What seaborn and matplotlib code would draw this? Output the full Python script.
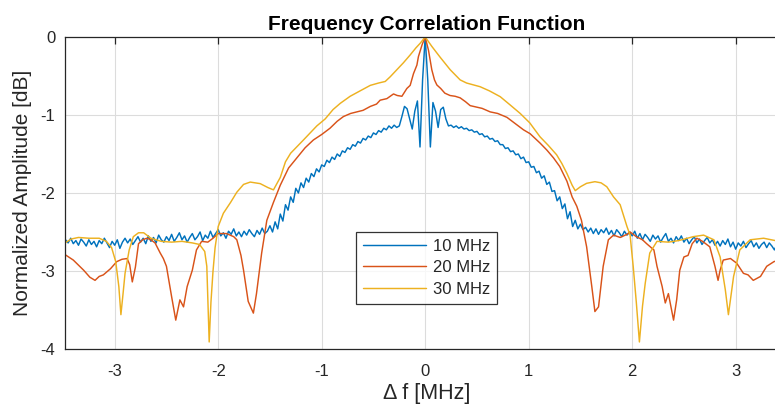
import numpy as np
import matplotlib
matplotlib.use("Agg")
import matplotlib.pyplot as plt
import seaborn as sns

# ============ Data ============
# 10 MHz: sampled on a regular grid from -3.5 to 3.4 MHz (step 0.025)
blue_x = np.linspace(-3.5, 3.4, 277)
blue_y = [
    -2.66, -2.60, -2.64, -2.58, -2.65, -2.61, -2.67, -2.59, -2.63, -2.68,
    -2.60, -2.66, -2.62, -2.69, -2.61, -2.65, -2.58, -2.64, -2.70, -2.62,
    -2.67, -2.60, -2.71, -2.63, -2.58, -2.64, -2.59, -2.66, -2.61, -2.56,
    -2.63, -2.58, -2.65, -2.55, -2.62, -2.57, -2.64, -2.54, -2.60, -2.63,
    -2.56, -2.61, -2.53, -2.62, -2.57, -2.51, -2.60, -2.55, -2.63, -2.57,
    -2.52, -2.60, -2.56, -2.50, -2.61, -2.54, -2.58, -2.49, -2.57, -2.52,
    -2.47, -2.55, -2.51, -2.58, -2.49, -2.53, -2.46, -2.55, -2.50, -2.56,
    -2.49, -2.54, -2.47, -2.52, -2.56, -2.48, -2.53, -2.45, -2.52, -2.49,
    -2.42, -2.50, -2.37, -2.46, -2.27, -2.36, -2.15, -2.22, -2.05, -2.12,
    -1.94, -2.00, -1.87, -1.93, -1.81, -1.86, -1.75, -1.79, -1.69, -1.73,
    -1.64, -1.66, -1.58, -1.61, -1.54, -1.57, -1.50, -1.53, -1.46, -1.48,
    -1.42, -1.44, -1.38, -1.40, -1.34, -1.36, -1.30, -1.32, -1.27, -1.29,
    -1.23, -1.25, -1.20, -1.22, -1.17, -1.19, -1.14, -1.17, -1.13, -1.16,
    -1.14, -1.02, -0.89, -0.92, -1.05, -1.18, -0.95, -0.82, -1.41, -0.55,
    0.00, -0.55, -1.41, -0.84, -0.95, -1.16, -0.93, -0.90, -1.05, -1.14,
    -1.13, -1.16, -1.14, -1.17, -1.15, -1.18, -1.17, -1.20, -1.19, -1.22,
    -1.21, -1.25, -1.24, -1.28, -1.27, -1.31, -1.30, -1.34, -1.33, -1.38,
    -1.38, -1.43, -1.42, -1.47, -1.46, -1.51, -1.50, -1.56, -1.54, -1.61,
    -1.60, -1.67, -1.66, -1.74, -1.72, -1.81, -1.78, -1.89, -1.86, -1.98,
    -1.97, -2.10, -2.05, -2.20, -2.14, -2.33, -2.24, -2.43, -2.35, -2.46,
    -2.40, -2.47, -2.44, -2.50, -2.45, -2.52, -2.46, -2.53, -2.47, -2.51,
    -2.45, -2.53, -2.48, -2.55, -2.47, -2.51, -2.56, -2.49, -2.54, -2.50,
    -2.55, -2.49, -2.58, -2.52, -2.60, -2.53, -2.57, -2.62, -2.54, -2.59,
    -2.55, -2.63, -2.57, -2.52, -2.62, -2.58, -2.64, -2.56, -2.61, -2.55,
    -2.63, -2.58, -2.65, -2.60, -2.56, -2.64, -2.59, -2.66, -2.61, -2.57,
    -2.64, -2.60, -2.67, -2.62, -2.68, -2.61, -2.66, -2.59, -2.69, -2.63,
    -2.72, -2.64, -2.68, -2.62, -2.70, -2.65, -2.61, -2.69, -2.64, -2.71,
    -2.66, -2.63, -2.70, -2.64, -2.68, -2.73, -2.65,
]

# 20 MHz
red_x = [
    -3.48, -3.40, -3.30, -3.24, -3.19, -3.15, -3.11, -3.04, -2.98, -2.93,
    -2.88, -2.855, -2.83, -2.80, -2.77, -2.73, -2.69, -2.65, -2.61, -2.56,
    -2.53, -2.50, -2.45, -2.41, -2.37, -2.335, -2.30, -2.25, -2.21, -2.16,
    -2.10, -2.05, -2.00, -1.92, -1.85, -1.82, -1.78, -1.755, -1.71, -1.66,
    -1.63, -1.58, -1.53, -1.466, -1.40, -1.32, -1.24, -1.16, -1.08, -1.00,
    -0.92, -0.85, -0.79, -0.72, -0.66, -0.60, -0.53, -0.47, -0.435, -0.37,
    -0.306, -0.27, -0.225, -0.177, -0.145, -0.113, -0.08, -0.065, -0.03, 0.0,
    0.032, 0.064, 0.09, 0.113, 0.15, 0.19, 0.24, 0.29, 0.338, 0.39,
    0.435, 0.50, 0.55, 0.628, 0.70, 0.79, 0.86, 0.95, 1.014, 1.11,
    1.176, 1.24, 1.30, 1.37, 1.42, 1.465, 1.51, 1.56, 1.61, 1.64,
    1.675, 1.72, 1.77, 1.82, 1.884, 1.95, 1.98, 2.04, 2.10, 2.14,
    2.21, 2.24, 2.29, 2.32, 2.35, 2.40, 2.43, 2.46, 2.50, 2.54,
    2.58, 2.625, 2.68, 2.75, 2.80, 2.83, 2.85, 2.88, 2.95, 3.01,
    3.075, 3.12, 3.17, 3.24, 3.30, 3.37, 3.42,
]
red_y = [
    -2.79, -2.86, -2.99, -3.08, -3.12, -3.07, -3.05, -2.97, -2.88, -2.85,
    -2.84, -2.92, -3.14, -2.95, -2.65, -2.60, -2.58, -2.60, -2.64, -2.77,
    -2.84, -2.94, -3.33, -3.63, -3.37, -3.46, -3.20, -2.99, -2.73, -2.62,
    -2.63, -2.58, -2.52, -2.52, -2.56, -2.60, -2.80, -2.99, -3.39, -3.54,
    -3.29, -2.77, -2.35, -2.12, -1.90, -1.68, -1.55, -1.42, -1.32, -1.25,
    -1.17, -1.08, -1.02, -0.98, -0.96, -0.94, -0.89, -0.86, -0.81, -0.79,
    -0.73, -0.75, -0.76, -0.66, -0.62, -0.47, -0.36, -0.25, -0.10, 0.0,
    -0.17, -0.42, -0.55, -0.615, -0.66, -0.72, -0.75, -0.76, -0.78, -0.83,
    -0.88, -0.90, -0.915, -0.96, -0.98, -1.03, -1.10, -1.19, -1.24, -1.36,
    -1.45, -1.55, -1.66, -1.85, -2.05, -2.17, -2.35, -2.69, -3.20, -3.52,
    -3.46, -2.94, -2.60, -2.54, -2.57, -2.53, -2.50, -2.56, -2.60, -2.65,
    -2.73, -2.94, -3.20, -3.41, -3.29, -3.63, -3.37, -2.99, -2.82, -2.80,
    -2.65, -2.58, -2.62, -2.69, -2.94, -3.12, -2.99, -2.86, -2.84, -2.90,
    -3.03, -3.05, -3.12, -3.07, -2.94, -2.88, -2.86,
]

# 30 MHz
yellow_x = [
    -3.48, -3.42, -3.35, -3.25, -3.15, -3.08, -3.03, -2.99, -2.96, -2.94,
    -2.92, -2.90, -2.86, -2.82, -2.77, -2.72, -2.65, -2.55, -2.45, -2.35,
    -2.25, -2.18, -2.13, -2.11, -2.087, -2.07, -2.05, -2.03, -2.00, -1.95,
    -1.88, -1.82, -1.755, -1.69, -1.594, -1.52, -1.466, -1.40, -1.35, -1.30,
    -1.176, -1.047, -0.966, -0.89, -0.82, -0.725, -0.628, -0.53, -0.45, -0.386,
    -0.338, -0.274, -0.21, -0.145, -0.09, -0.048, 0.0, 0.064, 0.145, 0.242,
    0.338, 0.40, 0.53, 0.62, 0.725, 0.82, 0.918, 1.01, 1.11, 1.19,
    1.27, 1.32, 1.37, 1.42, 1.45, 1.50, 1.56, 1.64, 1.70, 1.755,
    1.82, 1.884, 1.95, 1.98, 2.01, 2.04, 2.07, 2.10, 2.126, 2.17,
    2.24, 2.35, 2.45, 2.59, 2.69, 2.79, 2.85, 2.90, 2.93, 2.98,
    3.04, 3.14, 3.27, 3.42,
]
yellow_y = [
    -2.64, -2.59, -2.57, -2.58, -2.58, -2.62, -2.70, -2.88, -3.20, -3.56,
    -3.30, -3.03, -2.73, -2.56, -2.51, -2.51, -2.58, -2.62, -2.63, -2.62,
    -2.64, -2.66, -2.75, -2.94, -3.91, -3.40, -3.00, -2.70, -2.43, -2.26,
    -2.12, -1.99, -1.89, -1.86, -1.88, -1.93, -1.96, -1.80, -1.60, -1.49,
    -1.32, -1.14, -1.05, -0.93, -0.85, -0.76, -0.69, -0.62, -0.59, -0.57,
    -0.51, -0.42, -0.33, -0.23, -0.14, -0.08, 0.0, -0.12, -0.26, -0.42,
    -0.55, -0.59, -0.637, -0.69, -0.765, -0.87, -0.98, -1.10, -1.28, -1.39,
    -1.51, -1.62, -1.75, -1.90, -1.97, -1.92, -1.876, -1.855, -1.87, -1.92,
    -2.05, -2.15, -2.43, -2.54, -2.94, -3.40, -3.91, -3.45, -3.16, -2.77,
    -2.62, -2.63, -2.61, -2.56, -2.54, -2.60, -2.82, -3.24, -3.56, -3.07,
    -2.73, -2.60, -2.58, -2.62,
]

labels = ['10 MHz', '20 MHz', '30 MHz']
colors = ['#0072BD', '#D95319', '#EDB120']  # MATLAB default order

x_ticks = [-3, -2, -1, 0, 1, 2, 3]
y_ticks = [0, -1, -2, -3, -4]

# ============ Style ============
sns.set_style("white")
plt.rcParams['font.family'] = ['Liberation Sans', 'DejaVu Sans']
plt.rcParams['axes.unicode_minus'] = False
txt_color = '#262626'

fig = plt.figure(figsize=(7.75, 4.13), dpi=100)
ax = fig.add_axes([0.0839, 0.155, 0.9321, 0.7554])

series = [(blue_x, blue_y), (red_x, red_y), (yellow_x, yellow_y)]
for (xs, ys), lab, col in zip(series, labels, colors):
    sns.lineplot(x=xs, y=ys, ax=ax, color=col, linewidth=1.05, label=lab,
                 estimator=None, sort=False)

ax.set_xlim(-3.48, 3.5)
ax.set_ylim(-4, 0)
ax.set_xticks(x_ticks)
ax.set_yticks(y_ticks)
ax.set_xticklabels([str(t) for t in x_ticks])
ax.set_yticklabels([str(t) for t in y_ticks])
ax.grid(True, color='#dcdcdc', linewidth=0.8)
ax.tick_params(direction='in', length=5, width=0.9, colors=txt_color,
               labelsize=12, top=True, right=True)
ax.tick_params(axis='x', pad=11)
ax.tick_params(axis='y', pad=7)
for sp in ax.spines.values():
    sp.set_color(txt_color)
    sp.set_linewidth(0.9)

ax.set_title('Frequency Correlation Function', fontsize=15,
             fontweight='bold', color='black', pad=5)
ax.set_xlabel('\u0394 f [MHz]', fontsize=15.5, color=txt_color, labelpad=3)
ax.set_ylabel('Normalized Amplitude [dB]', fontsize=15, color=txt_color,
              labelpad=6)

leg = ax.legend(loc='upper left', bbox_to_anchor=(291 / 722.4, 117 / 312),
                borderaxespad=0, fontsize=12, frameon=True, fancybox=False,
                handlelength=3.8, borderpad=0.4, labelspacing=0.4,
                handletextpad=0.4)
leg.get_frame().set_edgecolor('black')
leg.get_frame().set_linewidth(0.9)
for t in leg.get_texts():
    t.set_color(txt_color)

fig.savefig('out.png', dpi=100)
